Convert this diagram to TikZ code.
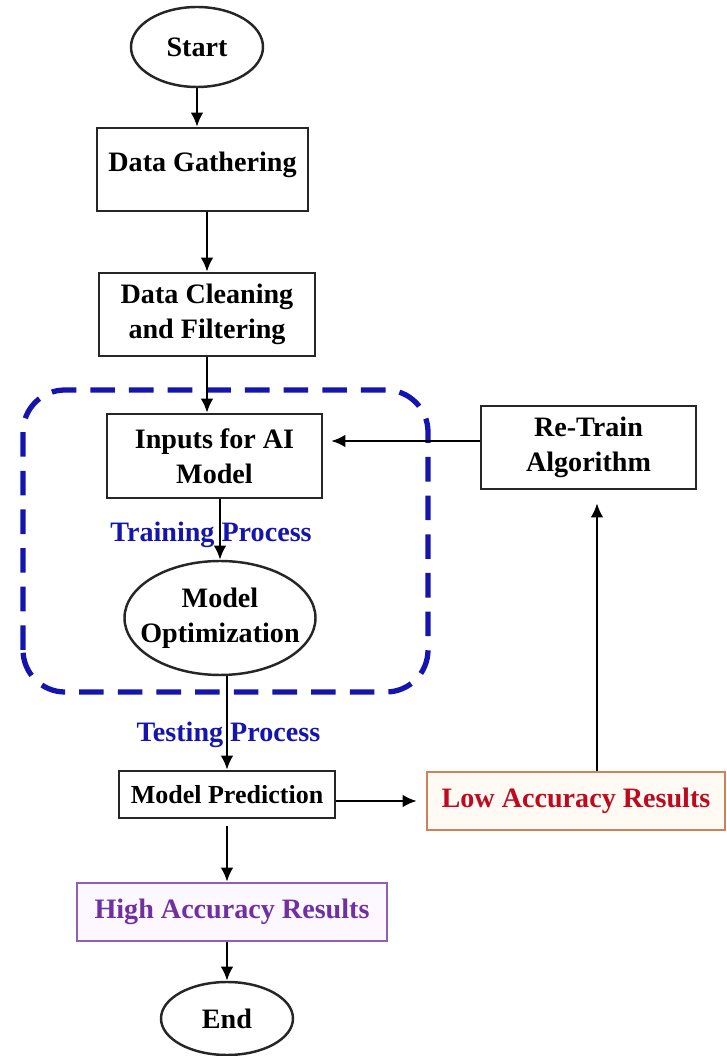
\documentclass[tikz,border=0pt]{standalone}
\usepackage{fontspec}
\setmainfont{Liberation Serif}
\usetikzlibrary{arrows.meta,shapes.geometric}
\definecolor{trainblue}{RGB}{20,20,175}
\definecolor{lowred}{RGB}{190,10,30}
\definecolor{lowedge}{RGB}{205,130,90}
\definecolor{lowfill}{RGB}{255,250,244}
\definecolor{highpurple}{RGB}{112,48,160}
\definecolor{highedge}{RGB}{145,95,175}
\definecolor{highfill}{RGB}{253,248,255}
\tikzset{
  flowtext/.style={font=\fontsize{8}{9.9}\selectfont\bfseries, align=center},
  box/.style={flowtext, draw=black!85, line width=0.7pt, rectangle, inner sep=0pt},
  oval/.style={flowtext, draw=black!85, line width=0.7pt, ellipse, inner sep=0pt},
  arr/.style={-{Latex[length=4pt,width=3.6pt]}, line width=0.7pt},
  proclabel/.style={flowtext, text=trainblue, inner sep=0pt}
}

\begin{document}
\begin{tikzpicture}
        \useasboundingbox (0,0) rectangle (7.26,10.56);
        \draw[trainblue, line width=1.5pt, dash pattern=on 7pt off 4pt, rounded corners=0.42cm]
          (0.23,3.64) rectangle (4.28,6.66);
        \node[oval, minimum width=1.32cm, minimum height=0.80cm] (start) at (1.97,10.09) {Start};
        \node[box, minimum width=2.11cm, minimum height=0.83cm, text height=6pt, text depth=4.8pt]
          (gather) at (2.025,8.865) {Data Gathering};
        \node[box, minimum width=2.16cm, minimum height=0.83cm] (clean) at (2.07,7.415) {Data Cleaning\\and Filtering};
        \node[box, minimum width=2.15cm, minimum height=0.84cm] (inputs) at (2.145,6.00) {Inputs for AI\\Model};
        \node[oval, minimum width=1.91cm, minimum height=1.14cm,
          label={[flowtext]center:Model\\Optimization}] (optim) at (2.20,4.38) {};
        \node[box, minimum width=2.15cm, minimum height=0.83cm] (retrain) at (5.885,6.085) {Re-Train\\Algorithm};
        \node[box, minimum width=2.16cm, minimum height=0.47cm,
          font=\fontsize{7.4}{9}\selectfont\bfseries] (pred) at (2.27,2.615) {Model Prediction};
        \node[box, draw=lowedge, fill=lowfill, text=lowred, minimum width=2.98cm, minimum height=0.58cm]
          (low) at (5.76,2.55) {Low Accuracy Results};
        \node[box, draw=highedge, fill=highfill, text=highpurple, minimum width=3.10cm, minimum height=0.58cm]
          (high) at (2.32,1.44) {High Accuracy Results};
        \node[oval, minimum width=1.32cm, minimum height=0.73cm] (end) at (2.27,0.375) {End};
        \node[proclabel] (trainlbl) at (2.11,5.21) {Training Process};
        \node[proclabel] (testlbl) at (2.285,3.21) {Testing Process};
        \draw[arr] (start.south) -- (start.south |- gather.north);
        \draw[arr] (clean.north |- gather.south) -- (clean.north);
        \draw[arr] (clean.south) -- (clean.south |- inputs.north);
        \draw[arr] (optim.north |- inputs.south) -- (optim.north);
        \draw[arr] (pred.north |- optim.south) -- (pred.north);
        \draw[arr, shorten >=0.09cm] (pred.east |- low.west) -- (low.west);
        \draw[arr, shorten <=0.07cm] (pred.south) -- (pred.south |- high.north);
        \draw[arr] (end.north |- high.south) -- (end.north);
        \draw[arr, shorten >=0.13cm] ([xshift=0.21cm]low.north) -- ([xshift=0.21cm]low.north |- retrain.south);
        \draw[arr, shorten >=0.08cm] ([yshift=0.065cm]retrain.west) -- ([yshift=0.065cm]retrain.west -| inputs.east);
      \end{tikzpicture}
\end{document}
